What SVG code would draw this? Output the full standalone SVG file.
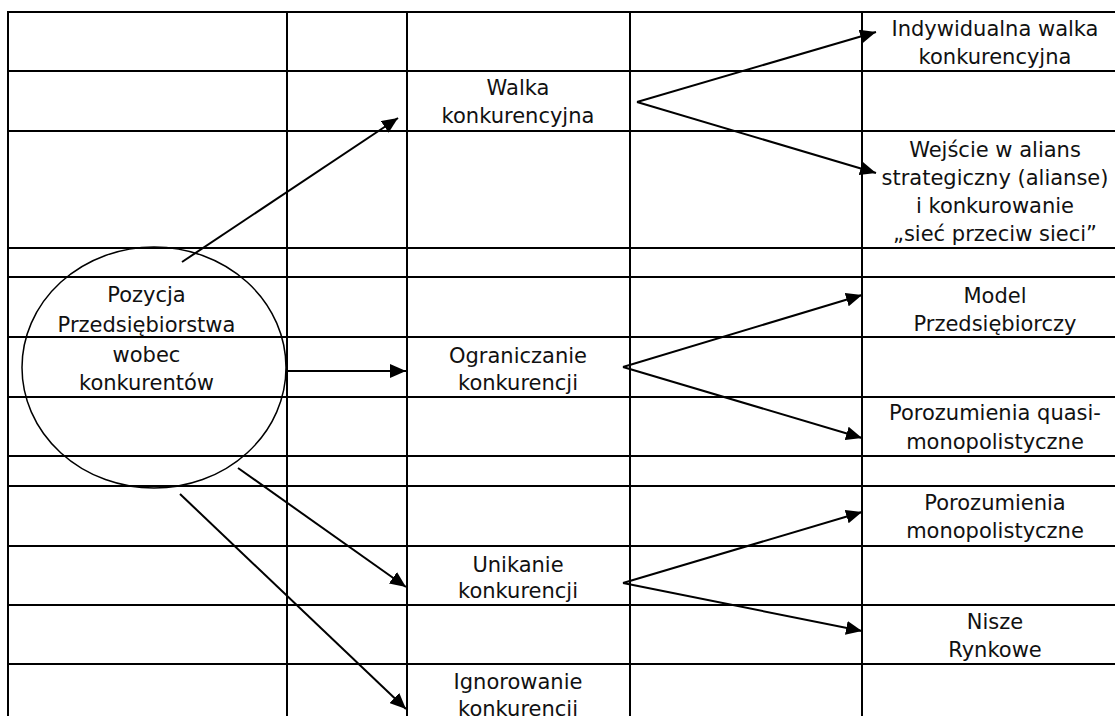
<svg xmlns="http://www.w3.org/2000/svg" width="1115" height="716" viewBox="0 0 1115 716">
<style>
.grid line{stroke:#000;stroke-width:2}
.lbl{font-family:"DejaVu Sans",Verdana,sans-serif;font-size:21px;fill:#111;text-anchor:middle}
.conn line{stroke:#000;stroke-width:2;marker-end:url(#ah)}
.oval{fill:none;stroke:#000;stroke-width:1.5}
</style>
<defs>
<marker id="ah" markerUnits="userSpaceOnUse" markerWidth="17" markerHeight="14" refX="16" refY="7" orient="auto">
<path d="M0,0 L16,7 L0,14 z" fill="#000"/>
</marker>
</defs>
<rect width="1115" height="716" fill="#fff"/>
<g id="grid" class="grid">
<line x1="7" y1="12" x2="1115" y2="12"/>
<line x1="7" y1="71" x2="1115" y2="71"/>
<line x1="7" y1="131" x2="1115" y2="131"/>
<line x1="7" y1="248" x2="1115" y2="248"/>
<line x1="7" y1="277" x2="1115" y2="277"/>
<line x1="7" y1="337" x2="1115" y2="337"/>
<line x1="7" y1="397" x2="1115" y2="397"/>
<line x1="7" y1="456" x2="1115" y2="456"/>
<line x1="7" y1="486" x2="1115" y2="486"/>
<line x1="7" y1="546" x2="1115" y2="546"/>
<line x1="7" y1="605" x2="1115" y2="605"/>
<line x1="7" y1="664" x2="1115" y2="664"/>
<line x1="8" y1="11" x2="8" y2="716"/>
<line x1="287" y1="11" x2="287" y2="716"/>
<line x1="407" y1="11" x2="407" y2="716"/>
<line x1="630" y1="11" x2="630" y2="716"/>
<line x1="862" y1="11" x2="862" y2="716"/>
</g>
<g id="pozycja">
<ellipse class="oval" cx="154" cy="367.5" rx="132" ry="120.5"/>
<text class="lbl" x="146.5" y="302">Pozycja</text>
<text class="lbl" x="146.5" y="332">Przedsiębiorstwa</text>
<text class="lbl" x="146.5" y="362">wobec</text>
<text class="lbl" x="146.5" y="390">konkurentów</text>
</g>
<g id="walka">
<text class="lbl" x="518" y="95">Walka</text>
<text class="lbl" x="518" y="123">konkurencyjna</text>
</g>
<g id="ograniczanie">
<text class="lbl" x="518" y="363">Ograniczanie</text>
<text class="lbl" x="518" y="390">konkurencji</text>
</g>
<g id="unikanie">
<text class="lbl" x="518" y="572">Unikanie</text>
<text class="lbl" x="518" y="598">konkurencji</text>
</g>
<g id="ignorowanie">
<text class="lbl" x="518" y="689">Ignorowanie</text>
<text class="lbl" x="518" y="716">konkurencji</text>
</g>
<g id="indywidualna">
<text class="lbl" x="995" y="36">Indywidualna walka</text>
<text class="lbl" x="995" y="64">konkurencyjna</text>
</g>
<g id="alians">
<text class="lbl" x="995" y="157">Wejście w alians</text>
<text class="lbl" x="995" y="185">strategiczny (alianse)</text>
<text class="lbl" x="995" y="213">i konkurowanie</text>
<text class="lbl" x="995" y="241">„sieć przeciw sieci”</text>
</g>
<g id="model">
<text class="lbl" x="995" y="303">Model</text>
<text class="lbl" x="995" y="331">Przedsiębiorczy</text>
</g>
<g id="quasi">
<text class="lbl" x="995" y="420">Porozumienia quasi-</text>
<text class="lbl" x="995" y="449">monopolistyczne</text>
</g>
<g id="monopol">
<text class="lbl" x="995" y="510">Porozumienia</text>
<text class="lbl" x="995" y="538">monopolistyczne</text>
</g>
<g id="nisze">
<text class="lbl" x="995" y="629">Nisze</text>
<text class="lbl" x="995" y="657">Rynkowe</text>
</g>
<g id="connectors" class="conn">
<line x1="182" y1="262" x2="398" y2="118"/>
<line x1="287" y1="371" x2="406" y2="371"/>
<line x1="238" y1="468" x2="406" y2="587"/>
<line x1="180" y1="494" x2="406" y2="709"/>
<line x1="637" y1="102" x2="876" y2="32"/>
<line x1="637" y1="102" x2="876" y2="173"/>
<line x1="623" y1="367" x2="862" y2="295"/>
<line x1="623" y1="367" x2="862" y2="438"/>
<line x1="623" y1="583" x2="862" y2="512"/>
<line x1="623" y1="583" x2="862" y2="631"/>
</g>
</svg>
